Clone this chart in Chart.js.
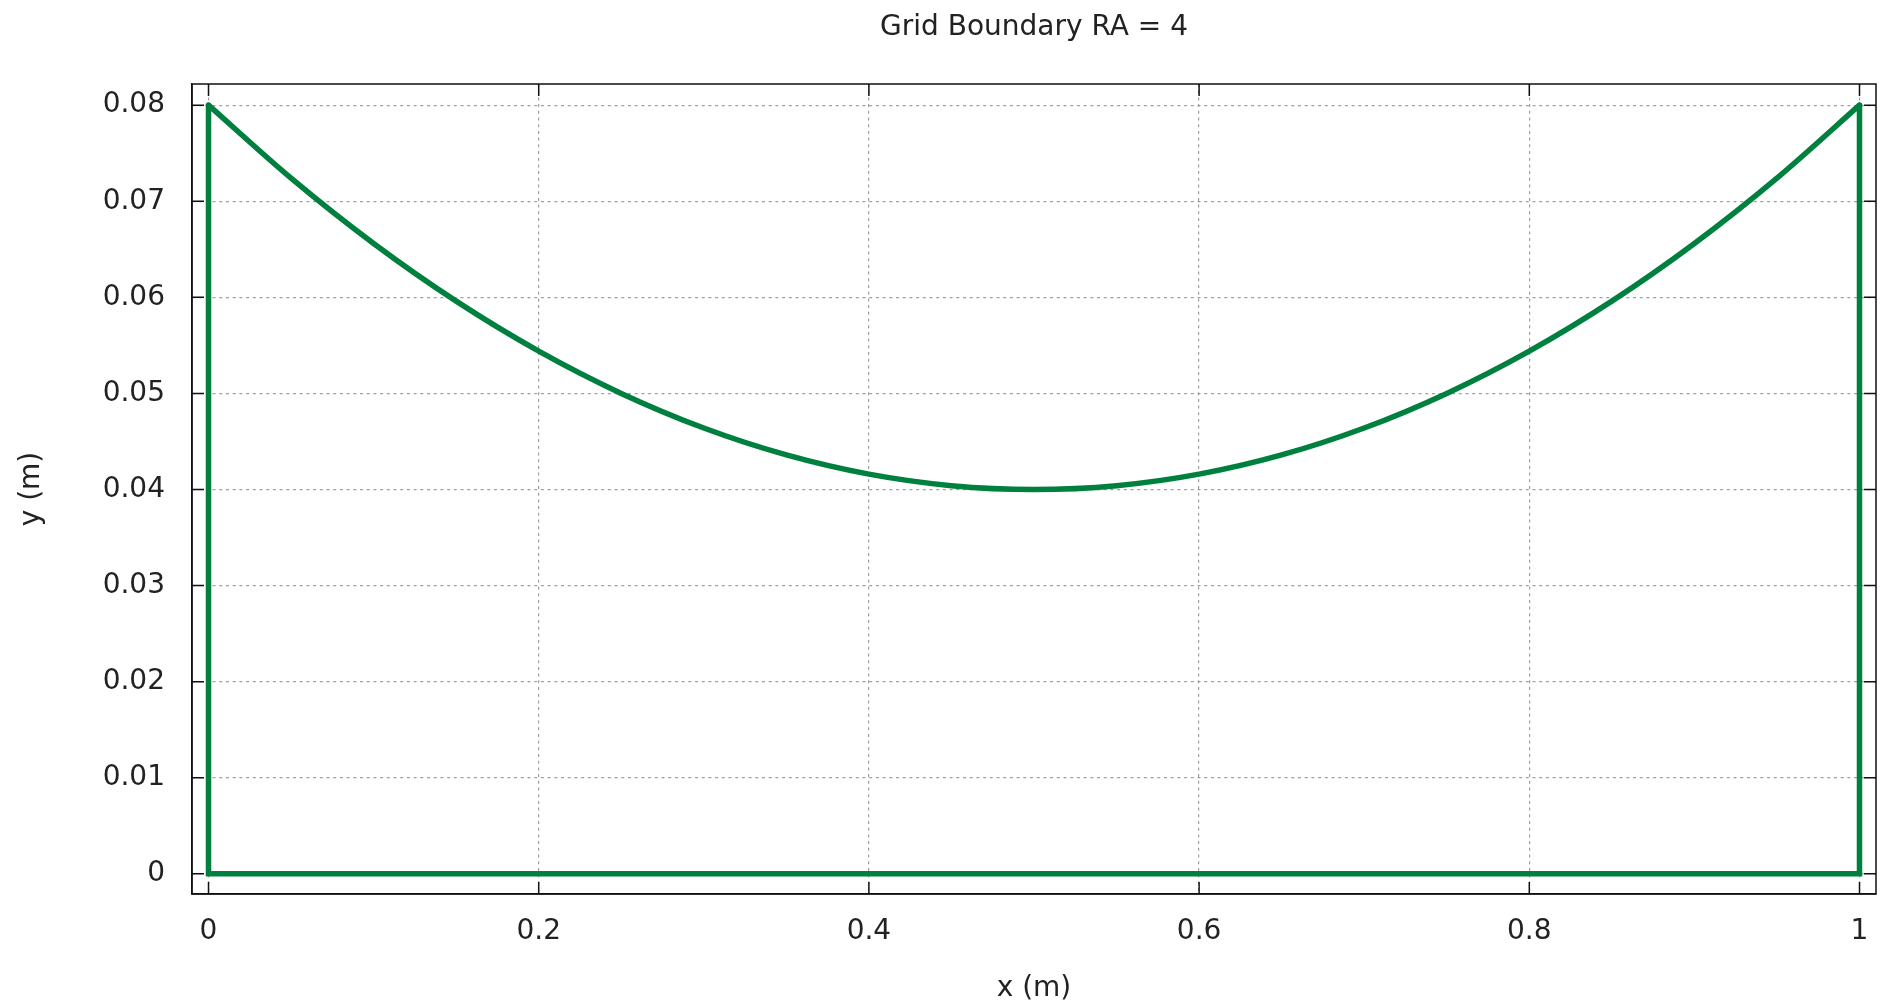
<!DOCTYPE html>
<html>
<head>
<meta charset="utf-8">
<title>Grid Boundary RA = 4</title>
<script src="https://cdn.jsdelivr.net/npm/chart.js@4.4.1/dist/chart.umd.min.js"></script>
<style>
  html, body { margin: 0; padding: 0; background: #ffffff; }
  #wrap { width: 1881px; height: 1007px; }
</style>
</head>
<body>
<div id="wrap"><canvas id="c" width="1881" height="1007"></canvas></div>
<script>
// ---- data ----
const curveX = [0, 0.05, 0.1, 0.15, 0.2, 0.25, 0.3, 0.35, 0.4, 0.45, 0.5,
                0.55, 0.6, 0.65, 0.7, 0.75, 0.8, 0.85, 0.9, 0.95, 1];
const curveY = [0.0800, 0.0724, 0.0656, 0.0596, 0.0544, 0.0500, 0.0464, 0.0436, 0.0416, 0.0404, 0.0400,
                0.0404, 0.0416, 0.0436, 0.0464, 0.0500, 0.0544, 0.0596, 0.0656, 0.0724, 0.0800];
const wallX = [0, 0, 1, 1];
const wallY = [0.08, 0, 0, 0.08];
const xTicks = [0, 0.2, 0.4, 0.6, 0.8, 1];
const xTickLabels = ['0', '0.2', '0.4', '0.6', '0.8', '1'];
const yTicks = [0, 0.01, 0.02, 0.03, 0.04, 0.05, 0.06, 0.07, 0.08];
const yTickLabels = ['0', '0.01', '0.02', '0.03', '0.04', '0.05', '0.06', '0.07', '0.08'];
const titleText = 'Grid Boundary RA = 4';
const xTitle = 'x (m)';
const yTitle = 'y (m)';

const GREEN = '#00803f';
const TICK = 12;

Chart.defaults.font.family = "'DejaVu Sans', sans-serif";
Chart.defaults.font.size = 28;
Chart.defaults.color = '#222222';

const frame = {
  id: 'frame',
  beforeDatasetsDraw(chart) {
    const {ctx, chartArea: a, scales: {x, y}} = chart;
    ctx.save();
    ctx.strokeStyle = '#111111';
    ctx.lineWidth = 1.5;
    ctx.setLineDash([]);
    ctx.beginPath();
    xTicks.forEach(v => {
      const px = x.getPixelForValue(v);
      ctx.moveTo(px, a.bottom); ctx.lineTo(px, a.bottom - TICK);
      ctx.moveTo(px, a.top); ctx.lineTo(px, a.top + TICK);
    });
    yTicks.forEach(v => {
      const py = y.getPixelForValue(v);
      ctx.moveTo(a.left, py); ctx.lineTo(a.left + TICK, py);
      ctx.moveTo(a.right, py); ctx.lineTo(a.right - TICK, py);
    });
    ctx.stroke();
    ctx.strokeRect(a.left, a.top, a.right - a.left, a.bottom - a.top);
    ctx.restore();
  }
};

new Chart(document.getElementById('c'), {
  type: 'scatter',
  data: {
    datasets: [
      {
        label: 'walls',
        data: wallX.map((v, i) => ({x: v, y: wallY[i]})),
        showLine: true,
        borderColor: GREEN,
        backgroundColor: GREEN,
        borderWidth: 5.5,
        pointRadius: 0,
        tension: 0,
        borderCapStyle: 'round',
        borderJoinStyle: 'miter'
      },
      {
        label: 'top',
        data: curveX.map((v, i) => ({x: v, y: curveY[i]})),
        showLine: true,
        borderColor: GREEN,
        backgroundColor: GREEN,
        borderWidth: 5.5,
        pointRadius: 0,
        cubicInterpolationMode: 'monotone',
        borderCapStyle: 'round'
      }
    ]
  },
  options: {
    responsive: false,
    devicePixelRatio: 1,
    animation: false,
    layout: { padding: { left: 0, right: 5, top: 0, bottom: 0 } },
    plugins: {
      legend: { display: false },
      tooltip: { enabled: false },
      title: {
        display: true,
        text: titleText,
        fullSize: false,
        color: '#222222',
        font: { size: 28, weight: 'normal', lineHeight: 1.2 },
        padding: { top: 11, bottom: 39.4 }
      }
    },
    scales: {
      x: {
        type: 'linear',
        position: 'bottom',
        min: -0.01,
        max: 1.01,
        afterBuildTicks: axis => { axis.ticks = xTicks.map(v => ({value: v})); },
        afterFit: s => { s.height = 113; },
        ticks: {
          padding: 0,
          maxRotation: 0,
          autoSkip: false,
          color: '#222222',
          font: { size: 28 },
          callback: v => xTickLabels[xTicks.indexOf(v)]
        },
        grid: {
          color: '#a0a0a0',
          lineWidth: 1.2,
          drawTicks: true,
          tickLength: 21,
          tickColor: 'transparent'
        },
        border: { display: true, color: '#111111', width: 1.5, dash: [3, 3.7] },
        title: {
          display: true,
          text: xTitle,
          color: '#222222',
          font: { size: 28 },
          padding: { top: 0, bottom: 1 }
        }
      },
      y: {
        type: 'linear',
        position: 'left',
        min: -0.0021,
        max: 0.0822,
        afterBuildTicks: axis => { axis.ticks = yTicks.map(v => ({value: v})); },
        afterFit: s => { s.width = 192; },
        ticks: {
          padding: 27,
          autoSkip: false,
          color: '#222222',
          font: { size: 28 },
          callback: v => yTickLabels[yTicks.indexOf(v)]
        },
        grid: {
          color: '#a0a0a0',
          lineWidth: 1.2,
          drawTicks: false
        },
        border: { display: true, color: '#111111', width: 1.5, dash: [3, 3.7] },
        title: {
          display: true,
          text: yTitle,
          color: '#222222',
          font: { size: 28 },
          padding: { top: 15, bottom: 0 }
        }
      }
    }
  },
  plugins: [frame]
});
</script>
</body>
</html>
